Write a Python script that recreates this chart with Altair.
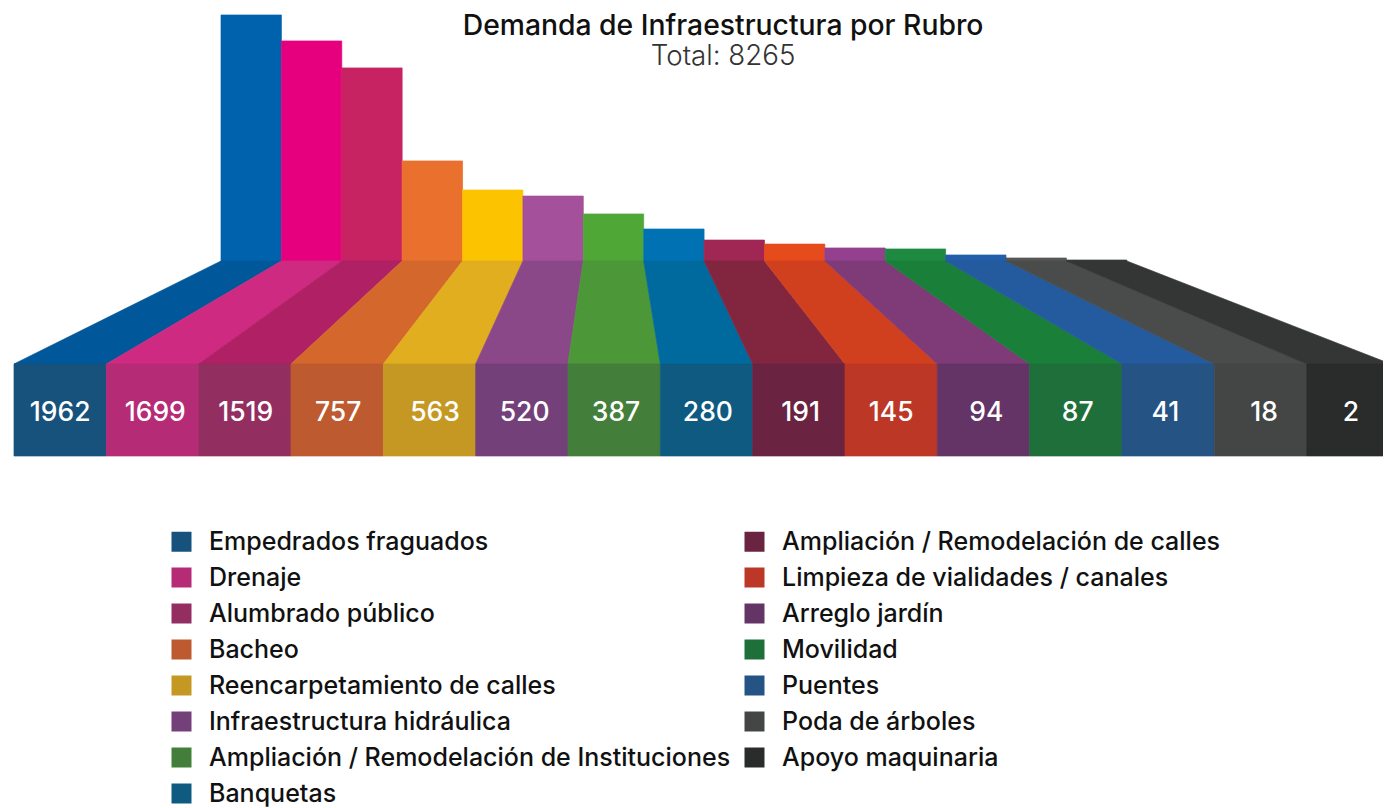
import altair as alt
import pandas as pd

categories = ["Empedrados fraguados", "Drenaje", "Alumbrado público", "Bacheo",
              "Reencarpetamiento de calles", "Infraestructura hidráulica",
              "Ampliación / Remodelación de Instituciones", "Banquetas",
              "Ampliación / Remodelación de calles", "Limpieza de vialidades / canales",
              "Arreglo jardín", "Movilidad", "Puentes", "Poda de árboles", "Apoyo maquinaria"]
values = [1962, 1699, 1519, 757, 563, 520, 387, 280, 191, 145, 94, 87, 41, 18, 2]
drawn_heights = [1962, 1755, 1540, 798, 566, 518, 375, 255, 167, 135, 104, 96, 48, 24, 8]
label_nudge = [0, .03, .01, .01, .06, .03, .02, .015, .02, 0, .03, .02, -.03, .04, -.02]

back_colors = ["#0062ad", "#e6007e", "#c72363", "#e9702d", "#fcc300", "#a5509a", "#4fa736", "#0072b4",
               "#a02654", "#e64b1c", "#93408e", "#1e8a41", "#255ea8", "#575756", "#3a3c3b"]
floor_colors = ["#00589a", "#cf2a82", "#b02064", "#d4682c", "#e1ae1f", "#8b4889", "#4c9738", "#006a9f",
                "#82263f", "#d1401e", "#7f3a78", "#1a8039", "#245a9e", "#4a4c4b", "#333634"]
front_colors = ["#16527c", "#b62b76", "#932f60", "#be5a2f", "#c59823", "#74407a", "#437f3a", "#0f5a80",
                "#6a2340", "#bd3726", "#633465", "#1f6f3a", "#245384", "#444645", "#2a2c2b"]

FONT = "Inter"
W, H = 1375, 800
STEP = 92.33
LEFT = 6.0
K = 246 / 1962
BASE = 253.0
FLOOR_FRONT = -821.5
FLOOR_BOTTOM = -1555.0
BACK_OFFSET, BACK_SCALE = 2.242, 0.654
SEAM = 0.7


def back(i):
    return BACK_OFFSET + i * BACK_SCALE


def front(i):
    return min(i, 14.91)


x_scale = alt.Scale(domain=[-LEFT / STEP, (W - LEFT) / STEP], range=[0, W], nice=False, zero=False)
y_scale = alt.Scale(domain=[-(H - BASE) / K, BASE / K], range=[H, 0], nice=False, zero=False)
X = lambda f: alt.X(f, type="quantitative", scale=x_scale, axis=None)
Y = lambda f: alt.Y(f, type="quantitative", scale=y_scale, axis=None)

rows = []
floor_rows = []
for i, c in enumerate(categories):
    rows.append(dict(cat=c, i=i, value=str(values[i]), h=drawn_heights[i],
                     bl=back(i), br=back(i + 1), fl=front(i), fr=front(i + 1),
                     tx=i + .5 + label_nudge[i], back=back_colors[i], front=front_colors[i], y0=0,
                     yt=FLOOR_FRONT, yb=FLOOR_BOTTOM, ym=(FLOOR_FRONT + FLOOR_BOTTOM) / 2))
    floor_rows.append(dict(cat=c, y=0, xl=back(i), xr=back(i + 1), col=floor_colors[i]))
    floor_rows.append(dict(cat=c, y=FLOOR_FRONT, xl=front(i), xr=front(i + 1), col=floor_colors[i]))
df = pd.DataFrame(rows)
floor = pd.DataFrame(floor_rows)

bars = alt.Chart(df).mark_rect(strokeWidth=SEAM).encode(
    x=X("bl"), x2="br", y=Y("y0"), y2="h",
    color=alt.Color("back:N", scale=None), stroke=alt.Stroke("back:N", scale=None))

road = alt.Chart(floor).mark_area(orient="horizontal", strokeWidth=SEAM).encode(
    y=Y("y"), x=X("xl"), x2="xr",
    color=alt.Color("col:N", scale=None), stroke=alt.Stroke("col:N", scale=None), detail="cat:N")

fronts = alt.Chart(df).mark_rect(strokeWidth=SEAM).encode(
    x=X("fl"), x2="fr", y=Y("yt"), y2="yb",
    stroke=alt.Stroke("front:N", scale=None),
    color=alt.Color("cat:N", scale=alt.Scale(domain=categories, range=front_colors), sort=categories,
                    legend=alt.Legend(title=None, orient="none", legendX=161, legendY=521, columns=2,
                                      symbolType="square", symbolSize=400, symbolStrokeWidth=0,
                                      symbolOpacity=1, labelFont=FONT, labelFontSize=25, labelFontWeight=500,
                                      labelColor="#111111", labelLimit=800, labelOffset=15,
                                      rowPadding=10, columnPadding=11, gridAlign="each")))

labels = alt.Chart(df).mark_text(font=FONT, fontSize=26.5, fontWeight=500, color="white",
                                 baseline="middle", dy=3).encode(
    x=X("tx"), y=Y("ym"), text="value:N")

titles = pd.DataFrame({"t": ["Demanda de Infraestructura por Rubro"], "x": [7.68], "y": [1866]})
subs = pd.DataFrame({"t": ["Total: 8265"], "x": [7.68], "y": [1627]})
title = alt.Chart(titles).mark_text(font=FONT, fontSize=28.3, fontWeight=500, color="#111111", baseline="middle").encode(
    x=X("x"), y=Y("y"), text="t:N")
sub = alt.Chart(subs).mark_text(font=FONT, fontSize=27.7, fontWeight=300, color="#333333", baseline="middle").encode(
    x=X("x"), y=Y("y"), text="t:N")

chart = alt.layer(bars, road, fronts, labels, title, sub).resolve_scale(color="independent", stroke="independent").properties(
    width=W, height=H, padding=0, autosize=alt.AutoSizeParams(type="none")
).configure_view(stroke=None)

chart.save("out.html", embed_options={"renderer": "svg", "actions": False})
